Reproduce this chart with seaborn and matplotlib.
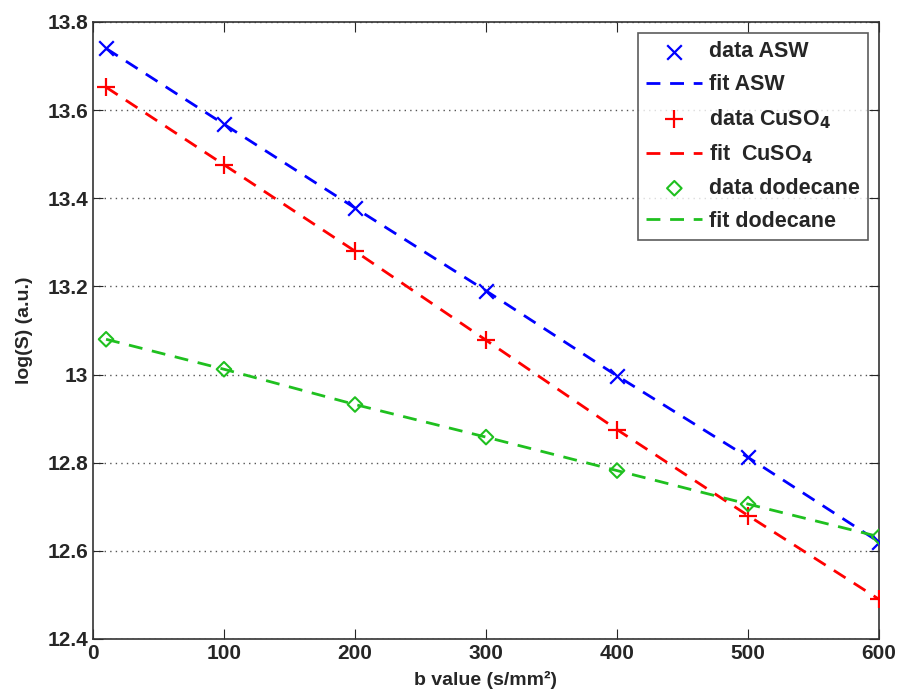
import numpy as np
import pandas as pd
import matplotlib
matplotlib.use("Agg")
import matplotlib.pyplot as plt
import seaborn as sns

# ── Data ──
b_values = [10, 100, 200, 300, 400, 500, 600]
asw = [13.74, 13.568, 13.378, 13.19, 12.997, 12.812, 12.62]
cuso4 = [13.652, 13.476, 13.28, 13.078, 12.875, 12.68, 12.49]
dodecane = [13.08, 13.012, 12.932, 12.858, 12.782, 12.706, 12.632]

df = pd.DataFrame({"b": b_values, "asw": asw, "cuso4": cuso4, "dodecane": dodecane})

sns.set_style("ticks")
plt.rcParams["font.family"] = ["Liberation Sans", "DejaVu Sans"]
plt.rcParams["font.weight"] = "bold"

fig = plt.figure(figsize=(8.99, 6.93), dpi=100)
ax = fig.add_axes([0.1034, 0.078, 0.8744, 0.8903])

# ── series: markers + dashed fit ──
series = [
    ("asw", "blue", "x", 110, "data ASW", "fit ASW"),
    ("cuso4", "red", "+", 150, "data CuSO$_4$", "fit  CuSO$_4$"),
    ("dodecane", "#1fc01f", "D", 55, "data dodecane", "fit dodecane"),
]
for col, c, m, size, lab_d, lab_f in series:
    if m == "D":
        sns.scatterplot(data=df, x="b", y=col, ax=ax, marker="D", s=size,
                        facecolor="none", edgecolor=c, linewidth=1.5, label=lab_d, zorder=3)
    else:
        sns.scatterplot(data=df, x="b", y=col, ax=ax, marker=m, s=size,
                        color=c, linewidth=1.6, label=lab_d, zorder=3)
    sns.lineplot(data=df, x="b", y=col, ax=ax, color=c, linestyle=(0, (5, 3.5)),
                 linewidth=2, label=lab_f, zorder=2)

ax.set_xlim(0, 600)
ax.set_ylim(12.4, 13.8)
ax.set_xticks(range(0, 601, 100))
ax.set_yticks(np.arange(12.4, 13.81, 0.2))
ax.set_yticklabels(["12.4", "12.6", "12.8", "13", "13.2", "13.4", "13.6", "13.8"])
ax.yaxis.grid(True, linestyle=(0, (1, 3)), color="#555555", linewidth=1)
ax.tick_params(direction="in", length=7, top=True, right=True, labelsize=15)
for s in ax.spines.values():
    s.set_color("#333333")
    s.set_linewidth(1.2)

ax.set_xlabel("b value (s/mm²)", fontsize=14, fontweight="bold", labelpad=6)
ax.set_ylabel("log(S) (a.u.)", fontsize=14, fontweight="bold", labelpad=10)

leg = ax.legend(loc="upper right", fontsize=15.5, frameon=True, fancybox=False,
                edgecolor="#333333", handlelength=2.6, labelspacing=0.55,
                borderaxespad=0.5, handletextpad=0.3, borderpad=0.4)
leg.get_frame().set_linewidth(1.2)

fig.savefig("out.png", dpi=100)
